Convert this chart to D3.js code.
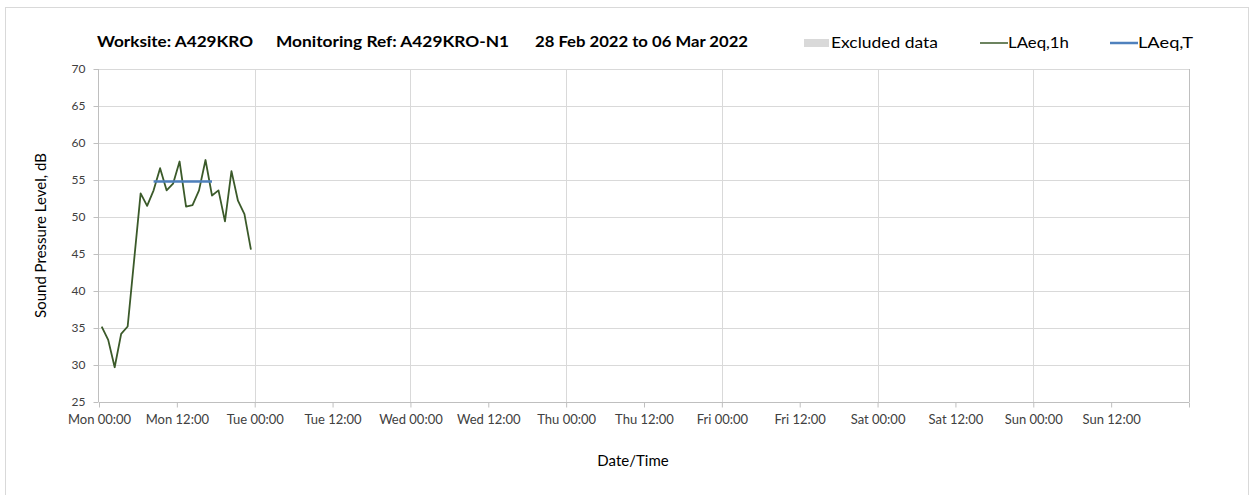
<!DOCTYPE html>
<html>
<head>
<meta charset="utf-8">
<script src="https://cdn.jsdelivr.net/npm/d3@7"></script>
<style>
  body { margin: 0; background: #fff; }
  text { font-family: Lato, "Open Sans", sans-serif; }
</style>
</head>
<body>
<div id="chart"></div>
<script>
// hourly LAeq,1h values, Mon 28 Feb 2022 (hour 0 .. 23)
const hourOffsets = [0, 1, 2, 3, 4, 5, 6, 7, 8, 9, 10, 11, 12, 13, 14, 15, 16, 17, 18, 19, 20, 21, 22, 23];
const laeq1h = [35.2, 33.4, 29.7, 34.2, 35.2, 44.2, 53.2, 51.5, 53.6, 56.6, 53.6, 54.5,
                57.5, 51.4, 51.6, 53.6, 57.7, 52.9, 53.6, 49.4, 56.2, 52.2, 50.4, 45.6];
// LAeq,T over the daytime period
const laeqTHours = [8, 17];
const laeqTValue = [54.8, 54.8];
const yTicks = [25, 30, 35, 40, 45, 50, 55, 60, 65, 70];
const titleParts = ['Worksite: A429KRO', 'Monitoring Ref: A429KRO-N1', '28 Feb 2022 to 06 Mar 2022'];
const legendLabels = ['Excluded data', 'LAeq,1h', 'LAeq,T'];

const W = 1250, H = 495;
const margin = { top: 69, right: 61, bottom: 93, left: 99 };
const start = new Date(2022, 1, 28, 0, 0);
const end = new Date(2022, 2, 7, 0, 0);
const minuteOffset = 25; // readings are plotted a little after the hour

const svg = d3.select('#chart').append('svg')
    .attr('width', W)
    .attr('height', H);

svg.append('rect')
    .attr('x', 5.5).attr('y', 7.5)
    .attr('width', 1243).attr('height', 500)
    .attr('fill', '#fff')
    .attr('stroke', '#d9d9d9');

const x = d3.scaleTime().domain([start, end]).range([margin.left, W - margin.right]);
const y = d3.scaleLinear().domain([25, 70]).range([H - margin.bottom, margin.top]);

const toDate = h => new Date(start.getTime() + (h * 60 + minuteOffset) * 60000);

// gridlines
svg.append('g')
    .selectAll('line')
    .data(yTicks.slice(1))
    .enter().append('line')
    .attr('x1', margin.left).attr('x2', W - margin.right)
    .attr('y1', d => Math.round(y(d)) + 0.5).attr('y2', d => Math.round(y(d)) + 0.5)
    .attr('stroke', '#d9d9d9');

const dayTicks = d3.timeDay.range(d3.timeDay.offset(start, 1), d3.timeDay.offset(end, 1));
svg.append('g')
    .selectAll('line')
    .data(dayTicks)
    .enter().append('line')
    .attr('x1', d => Math.round(x(d)) + 0.5).attr('x2', d => Math.round(x(d)) + 0.5)
    .attr('y1', margin.top).attr('y2', H - margin.bottom)
    .attr('stroke', '#d9d9d9');

// axes
const xTicks = d3.timeHour.every(12).range(start, end);
const xAxis = svg.append('g')
    .attr('transform', `translate(0,${Math.round(y(25)) + 0.5})`)
    .call(d3.axisBottom(x)
        .tickValues(xTicks.concat([end]))
        .tickSize(5)
        .tickFormat(d => d < end ? d3.timeFormat('%a %H:%M')(d) : ''));
xAxis.select('.domain').attr('stroke', '#bfbfbf').attr('d', `M${margin.left},0H${W - margin.right}`);
xAxis.selectAll('.tick line').attr('stroke', '#bfbfbf');
xAxis.selectAll('.tick text')
    .attr('dy', '1.0em')
    .attr('fill', '#404040')
    .style('font-size', '13px');

const yAxis = svg.append('g')
    .attr('transform', `translate(${margin.left - 0.5},0)`)
    .call(d3.axisLeft(y).tickValues(yTicks).tickSize(5).tickPadding(8));
yAxis.select('.domain').attr('stroke', '#bfbfbf').attr('d', `M0,${y(70)}V${y(25)}`);
yAxis.selectAll('.tick line').attr('stroke', '#bfbfbf');
yAxis.selectAll('.tick text')
    .attr('fill', '#404040')
    .style('font-size', '12px');

// plot border right side
svg.append('line')
    .attr('x1', W - margin.right + 0.5).attr('x2', W - margin.right + 0.5)
    .attr('y1', margin.top).attr('y2', y(25))
    .attr('stroke', '#bfbfbf');

// series
const line = d3.line()
    .x(d => x(d[0]))
    .y(d => y(d[1]));

svg.append('path')
    .datum(hourOffsets.map((h, i) => [toDate(h), laeq1h[i]]))
    .attr('d', line)
    .attr('fill', 'none')
    .attr('stroke', '#3b5a2a')
    .attr('stroke-width', 1.8)
    .attr('stroke-linejoin', 'round');

svg.append('path')
    .datum(laeqTHours.map((h, i) => [toDate(h), laeqTValue[i]]))
    .attr('d', line)
    .attr('fill', 'none')
    .attr('stroke', '#4f81bd')
    .attr('stroke-width', 2.5);

// titles (widths taken from the original layout)
const titleX = [97, 276, 535];
const titleW = [156, 233, 213];
svg.append('g')
    .selectAll('text')
    .data(titleParts)
    .enter().append('text')
    .attr('x', (d, i) => titleX[i])
    .attr('y', 47)
    .attr('fill', '#000')
    .attr('textLength', (d, i) => titleW[i])
    .attr('lengthAdjust', 'spacingAndGlyphs')
    .style('font-size', '16px')
    .style('font-weight', 'bold')
    .text(d => d);

svg.append('text')
    .attr('transform', `translate(46,${(y(25) + y(70)) / 2}) rotate(-90)`)
    .attr('text-anchor', 'middle')
    .attr('fill', '#000')
    .style('font-size', '15px')
    .text('Sound Pressure Level, dB');

svg.append('text')
    .attr('x', 633)
    .attr('y', 466)
    .attr('text-anchor', 'middle')
    .attr('fill', '#000')
    .style('font-size', '15px')
    .text('Date/Time');

// legend
const legend = svg.append('g');
legend.append('rect')
    .attr('x', 804).attr('y', 39)
    .attr('width', 25).attr('height', 8)
    .attr('fill', '#d9d9d9');
legend.append('line')
    .attr('x1', 980).attr('x2', 1008).attr('y1', 43).attr('y2', 43)
    .attr('stroke', '#3b5a2a').attr('stroke-width', 1.5);
legend.append('line')
    .attr('x1', 1110).attr('x2', 1138).attr('y1', 43).attr('y2', 43)
    .attr('stroke', '#4f81bd').attr('stroke-width', 2.5);
const legendX = [831, 1008, 1138];
const legendW = [107, 61, 55];
legend.selectAll('text')
    .data(legendLabels)
    .enter().append('text')
    .attr('x', (d, i) => legendX[i])
    .attr('y', 48)
    .attr('fill', '#000')
    .attr('textLength', (d, i) => legendW[i])
    .attr('lengthAdjust', 'spacingAndGlyphs')
    .style('font-size', '16px')
    .text(d => d);
</script>
</body>
</html>
